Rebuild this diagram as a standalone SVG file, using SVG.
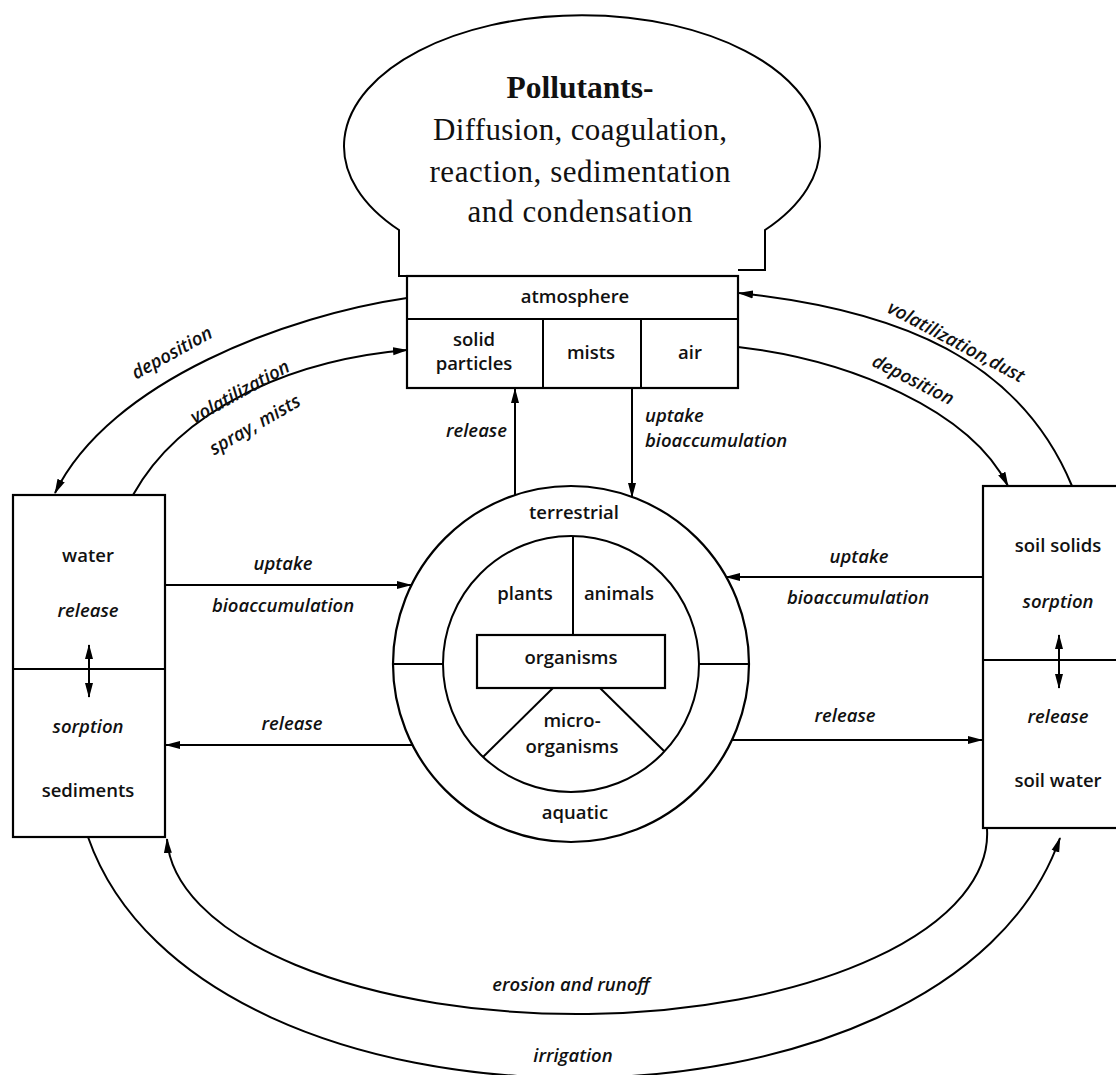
<svg xmlns="http://www.w3.org/2000/svg" width="1116" height="1075" viewBox="0 0 1116 1075">
<defs>
<marker id="ah" markerUnits="userSpaceOnUse" markerWidth="15" markerHeight="10" refX="14" refY="5" orient="auto-start-reverse">
<path d="M0,1 L15,5 L0,9 Z" fill="#000"/>
</marker>
<style>
.ln{fill:none;stroke:#000;stroke-width:2}
.bx{fill:#fff;stroke:#000;stroke-width:2.2}
.t{font-family:"Open Sans","Liberation Sans",sans-serif;font-size:18.5px;font-weight:600;text-anchor:middle;fill:#111}
.i{font-family:"Open Sans","Liberation Sans",sans-serif;font-size:18.5px;font-weight:600;font-style:italic;text-anchor:middle;fill:#111}
.s{font-family:"Liberation Serif","Times New Roman",serif;font-size:31px;text-anchor:middle;fill:#111}
</style>
</defs>
<rect width="1116" height="1075" fill="#fff"/>

<g id="cloud">
<path class="ln" d="M407,276 L399,276 L399,230 A238 131 0 1 1 765,230 L765,270 L738,270"/>
<text class="s" x="580" y="98" font-weight="bold" textLength="147" lengthAdjust="spacingAndGlyphs">Pollutants-</text>
<text class="s" x="580" y="140" textLength="294" lengthAdjust="spacing">Diffusion, coagulation,</text>
<text class="s" x="580" y="182" textLength="301" lengthAdjust="spacing">reaction, sedimentation</text>
<text class="s" x="580" y="222" textLength="225" lengthAdjust="spacing">and condensation</text>
</g>

<g id="atmosphere">
<rect class="bx" x="407" y="276" width="331" height="112"/>
<line class="ln" x1="407" y1="319" x2="738" y2="319"/>
<line class="ln" x1="543" y1="319" x2="543" y2="388"/>
<line class="ln" x1="641" y1="319" x2="641" y2="388"/>
<text class="t" x="575" y="303">atmosphere</text>
<text class="t" x="474" y="346">solid</text>
<text class="t" x="474" y="370">particles</text>
<text class="t" x="591" y="359">mists</text>
<text class="t" x="690" y="359">air</text>
</g>

<g id="water">
<rect class="bx" x="13" y="495" width="152" height="342"/>
<line class="ln" x1="13" y1="669" x2="165" y2="669"/>
<text class="t" x="88" y="562">water</text>
<text class="i" x="88" y="617">release</text>
<text class="i" x="88" y="733">sorption</text>
<text class="t" x="88" y="797">sediments</text>
<line class="ln" x1="89" y1="645" x2="89" y2="697" marker-start="url(#ah)" marker-end="url(#ah)"/>
</g>

<g id="soil">
<rect class="bx" x="983" y="486" width="150" height="342"/>
<line class="ln" x1="983" y1="660" x2="1133" y2="660"/>
<text class="t" x="1058" y="552">soil solids</text>
<text class="i" x="1058" y="608">sorption</text>
<text class="i" x="1058" y="723">release</text>
<text class="t" x="1058" y="787">soil water</text>
<line class="ln" x1="1059" y1="635" x2="1059" y2="688" marker-start="url(#ah)" marker-end="url(#ah)"/>
</g>

<g id="organisms">
<circle class="bx" cx="571" cy="664" r="178"/>
<circle class="ln" cx="571" cy="664" r="128"/>
<line class="ln" x1="393" y1="664" x2="443" y2="664"/>
<line class="ln" x1="699" y1="664" x2="749" y2="664"/>
<line class="ln" x1="573" y1="536" x2="573" y2="635"/>
<rect class="bx" x="477" y="635" width="188" height="53"/>
<line class="ln" x1="553" y1="688" x2="483" y2="757"/>
<line class="ln" x1="600" y1="688" x2="664" y2="751"/>
<text class="t" x="574" y="519">terrestrial</text>
<text class="t" x="525" y="600">plants</text>
<text class="t" x="619" y="600">animals</text>
<text class="t" x="571" y="664">organisms</text>
<text class="t" x="572" y="727">micro-</text>
<text class="t" x="572" y="753">organisms</text>
<text class="t" x="575" y="819">aquatic</text>
</g>

<g id="connectors">
<path class="ln" d="M407,298 C290,315 110,380 55,493" marker-end="url(#ah)"/>
<path class="ln" d="M133,495 C180,410 290,360 407,350" marker-end="url(#ah)"/>
<path class="ln" d="M1072,486 C1020,360 900,310 739,293" marker-end="url(#ah)"/>
<path class="ln" d="M738,347 C850,360 970,410 1008,486" marker-end="url(#ah)"/>
<line class="ln" x1="515" y1="495" x2="515" y2="389" marker-end="url(#ah)"/>
<line class="ln" x1="632" y1="388" x2="632" y2="497" marker-end="url(#ah)"/>
<line class="ln" x1="165" y1="585" x2="411" y2="585" marker-end="url(#ah)"/>
<line class="ln" x1="412" y1="745" x2="166" y2="745" marker-end="url(#ah)"/>
<line class="ln" x1="983" y1="577" x2="726" y2="577" marker-end="url(#ah)"/>
<line class="ln" x1="732" y1="740" x2="982" y2="740" marker-end="url(#ah)"/>
<path class="ln" d="M987,829 A410 180 0 0 1 167,839" marker-end="url(#ah)"/>
<path class="ln" d="M88,837 C200,1158 948,1158 1060,838" marker-end="url(#ah)"/>
</g>

<g id="labels">
<text class="i" transform="translate(172,353) rotate(-29)" y="6">deposition</text>
<text class="i" transform="translate(240,392) rotate(-29)" y="6">volatilization</text>
<text class="i" transform="translate(255,425) rotate(-30)" y="6">spray, mists</text>
<text class="i" transform="translate(956,342) rotate(28)" y="6">volatilization,dust</text>
<text class="i" transform="translate(913,380) rotate(27)" y="6">deposition</text>
<text class="i" x="507" y="437" style="text-anchor:end">release</text>
<text class="i" x="645" y="422" style="text-anchor:start">uptake</text>
<text class="i" x="645" y="447" style="text-anchor:start">bioaccumulation</text>
<text class="i" x="283" y="570">uptake</text>
<text class="i" x="283" y="612">bioaccumulation</text>
<text class="i" x="292" y="730">release</text>
<text class="i" x="859" y="563">uptake</text>
<text class="i" x="858" y="604">bioaccumulation</text>
<text class="i" x="845" y="722">release</text>
<text class="i" x="571" y="991">erosion and runoff</text>
<text class="i" x="573" y="1062">irrigation</text>
</g>
</svg>
